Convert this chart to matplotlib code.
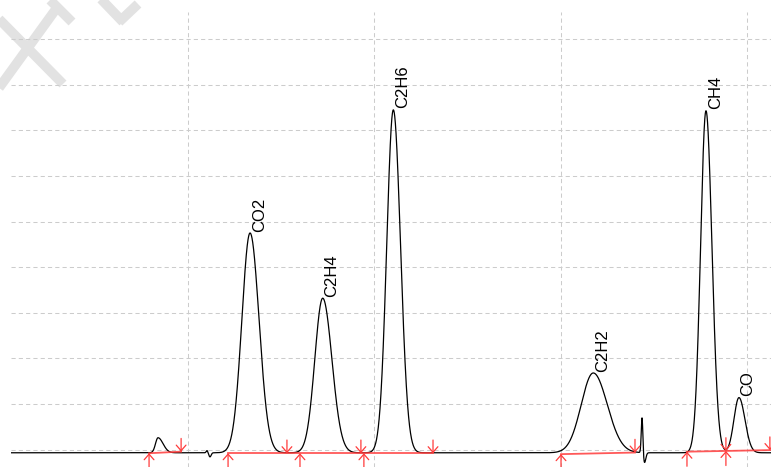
import numpy as np
import matplotlib
matplotlib.use("Agg")
import matplotlib.pyplot as plt

# --- peak table (time in min, height in signal units) ---
peak_names = ["", "CO2", "C2H4", "C2H6", "C2H2", "CH4", "CO"]
peak_times = [0.839, 1.333, 1.723, 2.102, 3.175, 3.780, 3.957]
peak_heights = [3.3, 48.2, 33.9, 75.2, 17.5, 75.0, 12.1]
sigma_left = [0.0134, 0.0440, 0.0424, 0.0354, 0.0644, 0.0290, 0.0268]
sigma_right = [0.0270, 0.0483, 0.0494, 0.0386, 0.0751, 0.0320, 0.0320]

# narrow disturbances (injection glitch / valve spike)
spike_times = [1.102, 1.118, 3.437, 3.450]
spike_amps = [0.5, -0.9, 8.0, -2.2]
spike_sigmas = [0.0043, 0.0060, 0.0043, 0.0070]

baseline_level = -0.7

# integration baselines: (t start, y start, t end, y end)
base_t0 = [0.791, 1.215, 3.002, 3.678]
base_y0 = [-0.80, -0.80, -1.00, -0.46]
base_t1 = [0.963, 2.315, 3.399, 4.140]
base_y1 = [-0.45, -0.80, -0.65, -0.10]

# peak start / end markers
start_times = [0.791, 1.215, 1.601, 1.944, 3.002, 3.678, 3.887]
end_times = [0.963, 1.531, 1.928, 2.315, 3.399, 3.887, 4.123]


def bigauss(t, t0, h, sl, sr):
    s = np.where(t < t0, sl, sr)
    return h * np.exp(-0.5 * ((t - t0) / s) ** 2)


def base_y(t):
    for a, ya, b, yb in zip(base_t0, base_y0, base_t1, base_y1):
        if a - 1e-6 <= t <= b + 1e-6:
            return ya + (yb - ya) * (t - a) / (b - a)
    return baseline_level


t = np.linspace(0.0, 4.2, 8000)
signal = np.full_like(t, baseline_level)
for t0, h, sl, sr in zip(peak_times, peak_heights, sigma_left, sigma_right):
    signal += bigauss(t, t0, h, sl, sr)
for t0, a, s in zip(spike_times, spike_amps, spike_sigmas):
    signal += a * np.exp(-0.5 * ((t - t0) / s) ** 2)

W, H = 771, 467
fig = plt.figure(figsize=(W / 100, H / 100), dpi=100)

# faint watermark strokes in the top-left corner
wm = fig.add_axes([0, 0, 1, 1], zorder=0)
wm.set_xlim(0, W); wm.set_ylim(H, 0); wm.axis("off")
wm_col = "#e2e2e2"
for (x0, y0), (x1, y1) in [((-4, 16), (63, 84)), ((-4, 92), (56, 9)),
                           ((50, 0), (72, 22)), ((100, -2), (123, 22)),
                           ((119, 22), (138, 4))]:
    wm.plot([x0, x1], [y0, y1], color=wm_col, lw=7, solid_capstyle="butt")

ax = fig.add_axes([11 / W, 0, (W - 11) / W, (H - 12) / H], zorder=1)
ax.patch.set_alpha(0)
ax.set_xlim(0.05, 4.129)
ax.set_ylim(-3.82, 95.96)
ax.set_xticks([1, 2, 3, 4])
ax.set_yticks(np.arange(0, 91, 10))
ax.grid(True, color="#cccccc", linestyle=(0, (4, 3)), linewidth=0.75)
ax.tick_params(length=0, labelbottom=False, labelleft=False)
for sp in ax.spines.values():
    sp.set_visible(False)

ax.plot(t, signal, color="black", lw=0.9, zorder=3)

red = "#ff3b3b"
for a, ya, b, yb in zip(base_t0, base_y0, base_t1, base_y1):
    ax.plot([a, b], [ya, yb], color=red, lw=1.3, alpha=0.85, zorder=4)

arrow_kw = dict(arrowstyle="->,head_length=0.4,head_width=0.35", color=red,
                lw=0.9, shrinkA=0, shrinkB=0)
for ts in start_times:
    ax.annotate("", xy=(ts, base_y(ts)), xytext=(0, -10.5),
                textcoords="offset points", arrowprops=arrow_kw, zorder=5)
for te in end_times:
    ax.annotate("", xy=(te, base_y(te)), xytext=(0, 9.5),
                textcoords="offset points", arrowprops=arrow_kw, zorder=5)

for name, t0, h in zip(peak_names, peak_times, peak_heights):
    if not name:
        continue
    ax.annotate(name, (t0, baseline_level + h), xytext=(1.2, 1),
                textcoords="offset points", rotation=90, ha="left",
                va="bottom", fontsize=12, family="Liberation Sans", zorder=6)

fig.savefig("out.png", dpi=100)
